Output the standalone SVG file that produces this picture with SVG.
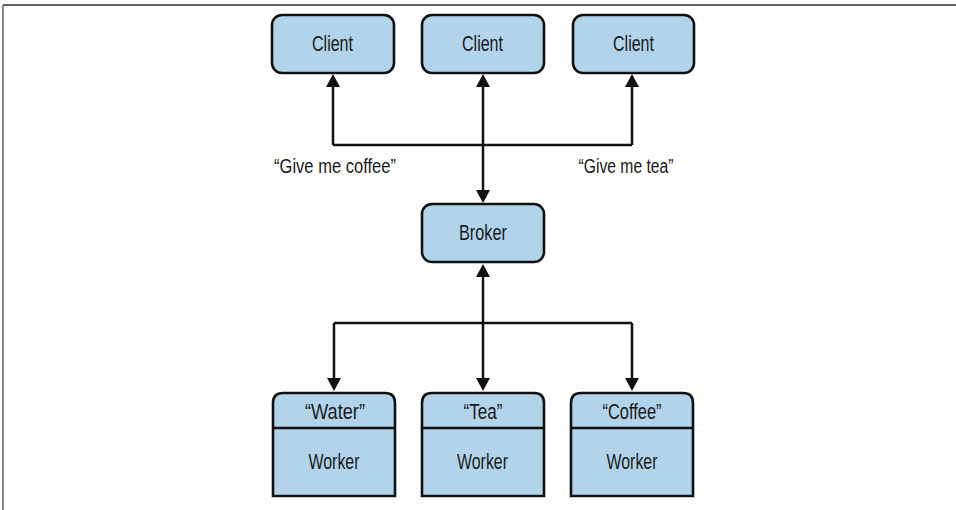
<svg xmlns="http://www.w3.org/2000/svg" width="956" height="510" viewBox="0 0 956 510">
  <style>
    .box { fill: #b2d4eb; stroke: #111; stroke-width: 2.6; }
    .div { stroke: #111; stroke-width: 2.4; fill: none; }
    .lbl { font-family: "Liberation Sans", Arial, sans-serif; font-size: 22.5px; fill: #1a1a1a; text-anchor: middle; }
    .cap { font-family: "Liberation Sans", Arial, sans-serif; font-size: 20px; fill: #1a1a1a; text-anchor: middle; }
    .wire { fill: none; stroke: #111; stroke-width: 2.5; }
  </style>
  <defs>
    <marker id="ah" viewBox="0 0 13 14" refX="9" refY="7" markerWidth="13" markerHeight="14" markerUnits="userSpaceOnUse" orient="auto-start-reverse">
      <path d="M0,0 L13,7 L0,14 z" fill="#111"/>
    </marker>
  </defs>
  <rect x="0" y="0" width="956" height="510" fill="#ffffff"/>
  <g id="frame">
    <line x1="3" y1="5" x2="956" y2="5" stroke="#2b2b2b" stroke-width="1.6"/>
    <line x1="3" y1="5" x2="3" y2="510" stroke="#555" stroke-width="1.4"/>
  </g>
  <g id="connectors">
    <polyline class="wire" points="333,145 333,78" marker-end="url(#ah)"/>
    <polyline class="wire" points="632,145 632,78" marker-end="url(#ah)"/>
    <line class="wire" x1="333" y1="145" x2="632" y2="145"/>
    <line class="wire" x1="483" y1="78" x2="483" y2="199" marker-start="url(#ah)" marker-end="url(#ah)"/>
    <line class="wire" x1="483" y1="268" x2="483" y2="387" marker-start="url(#ah)" marker-end="url(#ah)"/>
    <line class="wire" x1="334" y1="323" x2="632" y2="323"/>
    <polyline class="wire" points="334,323 334,387" marker-end="url(#ah)"/>
    <polyline class="wire" points="632,323 632,387" marker-end="url(#ah)"/>
  </g>
  <g id="labels">
    <text class="cap" x="335" y="173" textLength="122" lengthAdjust="spacingAndGlyphs">“Give me coffee”</text>
    <text class="cap" x="626" y="173" textLength="95" lengthAdjust="spacingAndGlyphs">“Give me tea”</text>
  </g>
  <g id="client1">
    <rect class="box" x="272" y="15" width="122" height="58" rx="10"/>
    <text class="lbl" x="332.5" y="51" textLength="41" lengthAdjust="spacingAndGlyphs">Client</text>
  </g>
  <g id="client2">
    <rect class="box" x="422" y="15" width="122" height="58" rx="10"/>
    <text class="lbl" x="482.5" y="51" textLength="41" lengthAdjust="spacingAndGlyphs">Client</text>
  </g>
  <g id="client3">
    <rect class="box" x="573" y="15" width="121" height="58" rx="10"/>
    <text class="lbl" x="633.5" y="51" textLength="41" lengthAdjust="spacingAndGlyphs">Client</text>
  </g>
  <g id="broker">
    <rect class="box" x="422" y="204" width="122" height="58" rx="10"/>
    <text class="lbl" x="483" y="240" textLength="48" lengthAdjust="spacingAndGlyphs">Broker</text>
  </g>
  <g id="worker-water">
    <path class="box" d="M273,496 L273,403 Q273,393 283,393 L385,393 Q395,393 395,403 L395,496 Z"/>
    <line class="div" x1="273" y1="428" x2="395" y2="428"/>
    <text class="lbl" x="335" y="419" textLength="60" lengthAdjust="spacingAndGlyphs">“Water”</text>
    <text class="lbl" x="334" y="469" textLength="51" lengthAdjust="spacingAndGlyphs">Worker</text>
  </g>
  <g id="worker-tea">
    <path class="box" d="M422,496 L422,403 Q422,393 432,393 L534,393 Q544,393 544,403 L544,496 Z"/>
    <line class="div" x1="422" y1="428" x2="544" y2="428"/>
    <text class="lbl" x="483" y="419" textLength="39" lengthAdjust="spacingAndGlyphs">“Tea”</text>
    <text class="lbl" x="482.5" y="469" textLength="51" lengthAdjust="spacingAndGlyphs">Worker</text>
  </g>
  <g id="worker-coffee">
    <path class="box" d="M571,496 L571,403 Q571,393 581,393 L683,393 Q693,393 693,403 L693,496 Z"/>
    <line class="div" x1="571" y1="428" x2="693" y2="428"/>
    <text class="lbl" x="632" y="419" textLength="59" lengthAdjust="spacingAndGlyphs">“Coffee”</text>
    <text class="lbl" x="632" y="469" textLength="51" lengthAdjust="spacingAndGlyphs">Worker</text>
  </g>
</svg>
